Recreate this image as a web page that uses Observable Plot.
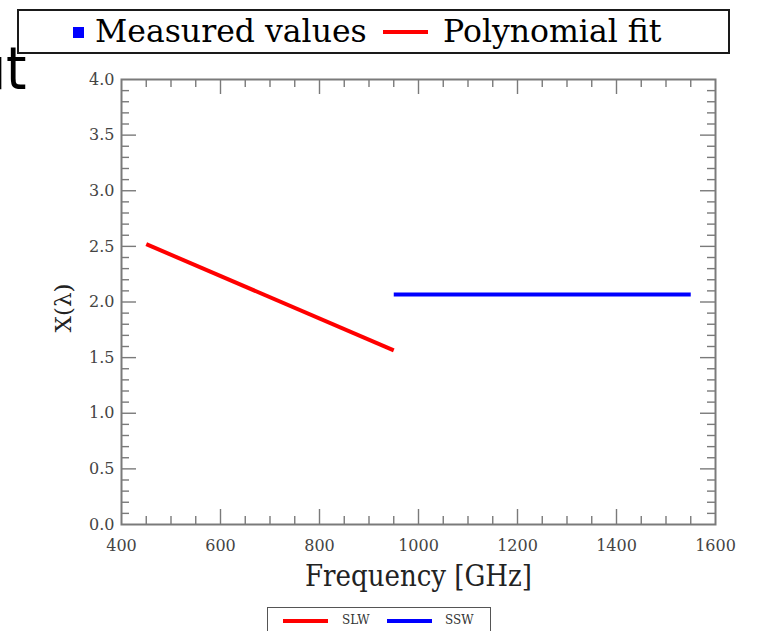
<!DOCTYPE html>
<html>
<head>
<meta charset="utf-8">
<script src="https://cdn.jsdelivr.net/npm/d3@7"></script>
<script src="https://cdn.jsdelivr.net/npm/@observablehq/plot@0.6"></script>
<style>
  html, body { margin: 0; padding: 0; background: #fff; }
  #wrap { position: relative; width: 772px; height: 631px; overflow: hidden; }
  #chart { position: absolute; left: 0; top: 0; }
  .ov { position: absolute; white-space: nowrap; }
</style>
</head>
<body>
<div id="wrap">
  <div id="chart"></div>
  <div class="ov" id="cut" style="left:-27px; top:40px; font-family:'Liberation Sans Narrow','DejaVu Sans Condensed',sans-serif; font-size:58px; line-height:1; color:#000;">ut</div>
  <div class="ov" id="topLegend" style="left:17px; top:9px; width:709px; height:41px; border:2px solid #1a1a1a; background:#fff; font-family:'DejaVu Serif',serif; font-size:31.5px; color:#000;">
    <span id="tl"></span>
  </div>
  <div class="ov" id="botLegend" style="left:267px; top:607px; width:222px; height:40px; border:1.5px solid #555; background:#fff; font-family:'DejaVu Serif',serif; font-size:12px; color:#333;">
    <span id="bl"></span>
  </div>
</div>
<script>
// ---- data ----
const slwFreq = [450, 950];
const slwValue = [2.52, 1.565];
const sswFreq = [950, 1250, 1550];
const sswValue = [2.068, 2.068, 2.068];
const xTickLabels = [400, 600, 800, 1000, 1200, 1400, 1600];
const yTickLabels = [0.0, 0.5, 1.0, 1.5, 2.0, 2.5, 3.0, 3.5, 4.0];
const xMinorTicks = d3.range(450, 1600, 50);
const yMinorTicks = d3.range(1, 40).map(i => i / 10);
const topLegendItems = ["Measured values", "Polynomial fit"];
const bottomLegendItems = ["SLW", "SSW"];
const xLabel = "Frequency [GHz]";
const yLabel = "X(λ)";

const slw = slwFreq.map((f, i) => ({f, v: slwValue[i], s: "SLW"}));
const ssw = sswFreq.map((f, i) => ({f, v: sswValue[i], s: "SSW"}));

const W = 772, H = 631;
const mL = 121, mR = 57, mT = 79, mB = 107;
const pw = W - mL - mR, ph = H - mT - mB;
const majorLen = 15, minorLen = 8;
const frameColor = "#7a7a7a";

const xMajorOnly = xTickLabels.filter(d => d > 400 && d < 1600);
const xMinorOnly = xMinorTicks.filter(d => !xTickLabels.includes(d));
const yMajorOnly = yTickLabels.filter(d => d > 0 && d < 4);
const yMinorOnly = yMinorTicks.filter(d => !yTickLabels.some(t => Math.abs(t - d) < 1e-9));

const tickStyle = {stroke: frameColor, strokeWidth: 1.4};
const serif = "'DejaVu Serif',serif";

const plot = Plot.plot({
  width: W, height: H,
  marginLeft: mL, marginRight: mR, marginTop: mT, marginBottom: mB,
  x: {domain: [400, 1600]},
  y: {domain: [0, 4]},
  style: {background: "#fff"},
  marks: [
    Plot.tickX(xMajorOnly, {x: d => d, insetTop: ph - majorLen, ...tickStyle}),
    Plot.tickX(xMajorOnly, {x: d => d, insetBottom: ph - majorLen, ...tickStyle}),
    Plot.tickX(xMinorOnly, {x: d => d, insetTop: ph - minorLen, ...tickStyle}),
    Plot.tickX(xMinorOnly, {x: d => d, insetBottom: ph - minorLen, ...tickStyle}),
    Plot.tickY(yMajorOnly, {y: d => d, insetRight: pw - majorLen, ...tickStyle}),
    Plot.tickY(yMajorOnly, {y: d => d, insetLeft: pw - majorLen, ...tickStyle}),
    Plot.tickY(yMinorOnly, {y: d => d, insetRight: pw - minorLen, ...tickStyle}),
    Plot.tickY(yMinorOnly, {y: d => d, insetLeft: pw - minorLen, ...tickStyle}),
    Plot.frame({stroke: frameColor, strokeWidth: 2}),
    Plot.axisX(xTickLabels, {
      tickSize: 0, tickPadding: 15, fontSize: 16, fill: "#444",
      fontFamily: serif, tickFormat: d => String(d), label: null
    }),
    Plot.axisY(yTickLabels, {
      tickSize: 0, tickPadding: 7, fontSize: 16, fill: "#444",
      fontFamily: serif, tickFormat: d => d.toFixed(1), label: null
    }),
    Plot.line(slw, {x: "f", y: "v", stroke: "#ff0000", strokeWidth: 4, strokeLinecap: "butt"}),
    Plot.line(ssw, {x: "f", y: "v", stroke: "#0000ff", strokeWidth: 4, strokeLinecap: "butt"}),
    Plot.text([xLabel], {
      frameAnchor: "bottom", dy: 61, text: d => d, fontSize: 29, fill: "#222",
      fontFamily: "'DejaVu Serif Condensed','DejaVu Serif',serif", fontWeight: 300
    }),
    Plot.text([yLabel], {
      frameAnchor: "left", dx: -58, dy: 6, rotate: -90, textAnchor: "middle",
      text: d => d, fontSize: 23, fill: "#222", fontFamily: serif
    })
  ]
});
document.getElementById("chart").appendChild(plot);

// top legend
document.getElementById("tl").innerHTML =
  `<span style="position:absolute;left:54px;top:16px;width:11px;height:11px;background:#0000ff"></span>` +
  `<span style="position:absolute;left:76px;top:0px;line-height:40px">${topLegendItems[0]}</span>` +
  `<span style="position:absolute;left:364px;top:19px;width:45px;height:4px;background:#ff0000"></span>` +
  `<span style="position:absolute;left:424px;top:0px;line-height:40px">${topLegendItems[1]}</span>`;

// bottom legend
document.getElementById("bl").innerHTML =
  `<span style="position:absolute;left:15px;top:11px;width:45px;height:4px;background:#ff0000"></span>` +
  `<span style="position:absolute;left:74px;top:4px;line-height:16px">${bottomLegendItems[0]}</span>` +
  `<span style="position:absolute;left:119px;top:11px;width:45px;height:4px;background:#0000ff"></span>` +
  `<span style="position:absolute;left:177px;top:4px;line-height:16px">${bottomLegendItems[1]}</span>`;
</script>
</body>
</html>
